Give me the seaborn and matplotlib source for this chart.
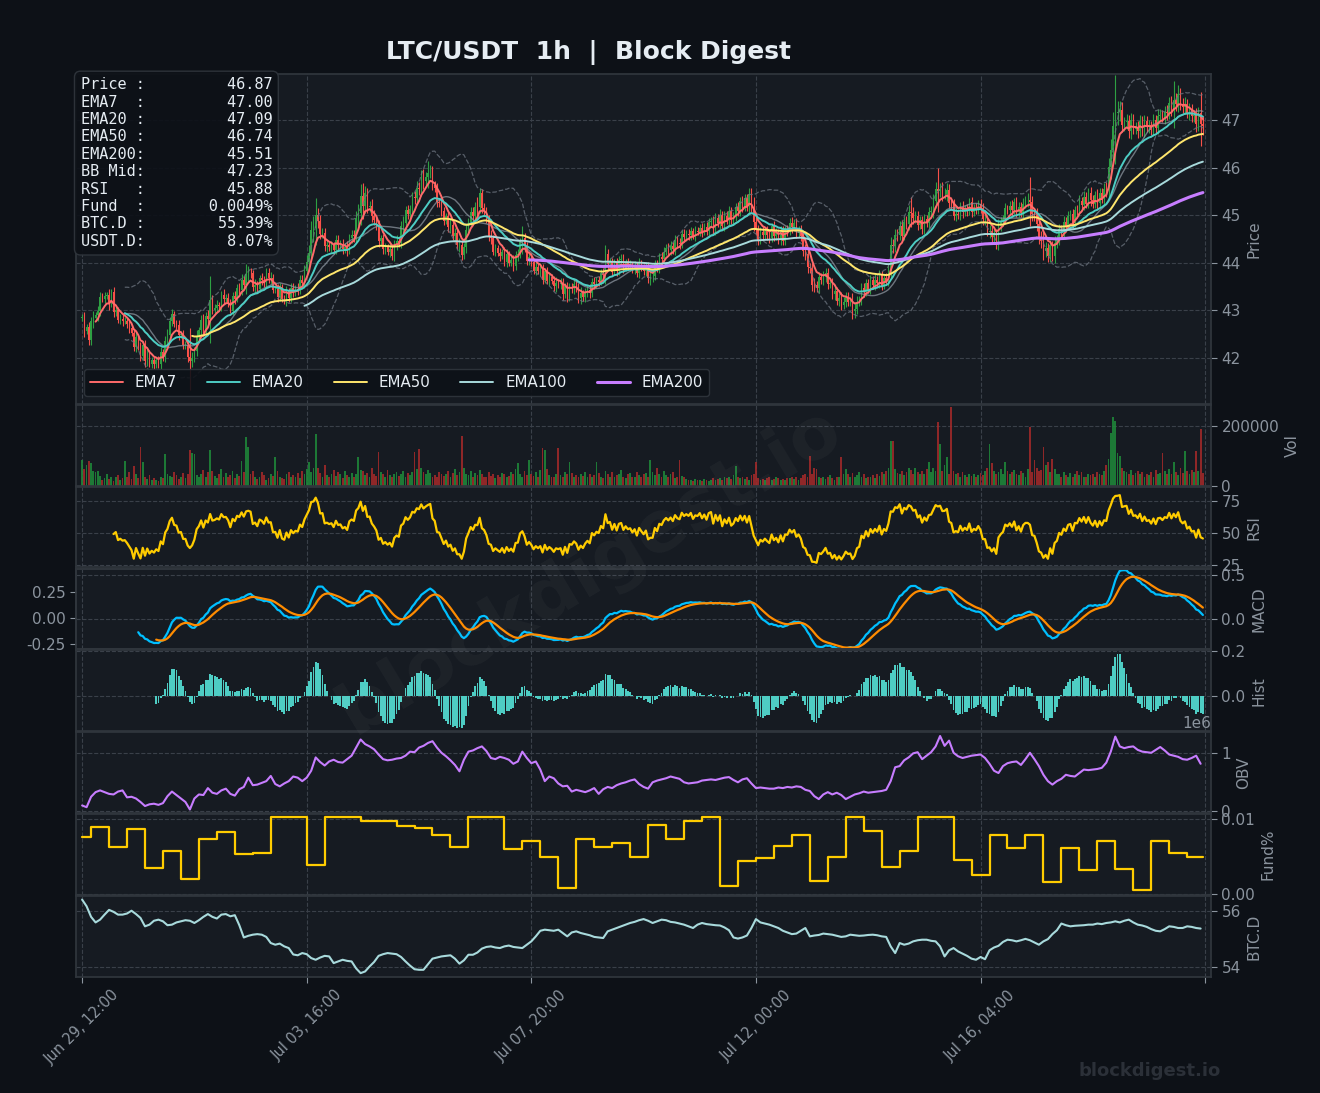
import numpy as np
import pandas as pd
import matplotlib
matplotlib.use("Agg")
import matplotlib.pyplot as plt
import seaborn as sns
from matplotlib.ticker import FormatStrFormatter

START = "2025-06-29 12:00"

# hourly closes
close = [
    42.84, 42.55, 42.64, 42.36, 42.76, 42.83, 42.89, 42.97, 43.28, 43.24,
    43.30, 43.32, 43.13, 43.38, 42.95, 43.00, 42.79, 42.82, 42.77, 42.78,
    42.71, 42.62, 42.52, 42.23, 42.43, 42.23, 42.03, 42.26, 41.92, 42.10,
    41.87, 41.94, 41.86, 41.94, 41.87, 42.11, 42.01, 42.35, 42.47, 42.77,
    42.92, 42.71, 42.69, 42.47, 42.49, 42.26, 42.26, 42.02, 41.92, 41.99,
    42.14, 42.46, 42.57, 42.79, 42.58, 42.87, 42.81, 43.21, 43.01, 43.04,
    43.11, 43.08, 43.32, 43.24, 43.25, 43.17, 42.99, 43.30, 43.24, 43.46,
    43.43, 43.63, 43.53, 43.76, 43.79, 43.77, 43.48, 43.53, 43.44, 43.67,
    43.64, 43.57, 43.79, 43.67, 43.68, 43.43, 43.44, 43.28, 43.49, 43.24,
    43.20, 43.40, 43.25, 43.47, 43.38, 43.45, 43.43, 43.64, 43.58, 43.83,
    44.01, 44.21, 44.69, 44.72, 45.00, 44.88, 44.61, 44.63, 44.34, 44.37,
    44.33, 44.36, 44.26, 44.48, 44.37, 44.39, 44.29, 44.33, 44.26, 44.52,
    44.58, 44.55, 44.94, 45.05, 45.40, 45.19, 45.46, 45.17, 45.19, 44.99,
    44.90, 44.78, 44.45, 44.51, 44.28, 44.33, 44.23, 44.28, 44.14, 44.38,
    44.45, 44.41, 44.77, 44.84, 45.10, 45.03, 45.13, 45.38, 45.36, 45.57,
    45.55, 45.80, 45.71, 45.81, 45.89, 45.94, 45.63, 45.57, 45.27, 45.25,
    45.08, 44.88, 44.97, 44.75, 44.80, 44.56, 44.62, 44.37, 44.37, 44.16,
    44.32, 44.68, 44.85, 45.07, 44.98, 45.17, 45.16, 45.46, 45.14, 45.08,
    44.91, 44.56, 44.52, 44.22, 44.30, 44.21, 44.13, 44.23, 44.02, 44.17,
    44.00, 44.06, 43.93, 44.16, 44.17, 44.44, 44.51, 44.35, 44.04, 44.12,
    44.01, 43.83, 43.91, 43.83, 43.88, 43.63, 43.82, 43.62, 43.69, 43.62,
    43.50, 43.58, 43.55, 43.57, 43.33, 43.50, 43.27, 43.48, 43.46, 43.54,
    43.47, 43.26, 43.35, 43.27, 43.37, 43.43, 43.36, 43.60, 43.54, 43.63,
    43.60, 43.78, 43.73, 44.18, 43.97, 44.01, 43.81, 44.00, 43.82, 44.05,
    44.08, 43.89, 44.01, 43.93, 43.96, 43.85, 43.94, 43.77, 43.99, 43.90,
    43.82, 43.92, 43.67, 43.71, 43.71, 43.97, 43.89, 44.11, 44.08, 44.23,
    44.31, 44.26, 44.35, 44.28, 44.47, 44.41, 44.39, 44.60, 44.54, 44.60,
    44.57, 44.66, 44.56, 44.66, 44.65, 44.73, 44.65, 44.75, 44.67, 44.85,
    44.88, 44.69, 44.94, 44.83, 45.00, 44.77, 44.99, 44.90, 45.09, 44.90,
    44.97, 45.16, 45.09, 45.29, 45.18, 45.35, 45.19, 45.44, 45.18, 44.86,
    44.69, 44.48, 44.65, 44.58, 44.67, 44.58, 44.51, 44.76, 44.56, 44.63,
    44.47, 44.68, 44.46, 44.68, 44.67, 44.84, 44.75, 44.83, 44.62, 44.69,
    44.56, 44.25, 44.19, 43.90, 43.88, 43.53, 43.52, 43.47, 43.69, 43.64,
    43.70, 43.78, 43.55, 43.57, 43.33, 43.40, 43.19, 43.26, 43.11, 43.18,
    43.27, 43.18, 43.19, 42.97, 43.03, 43.18, 43.21, 43.46, 43.39, 43.57,
    43.43, 43.63, 43.53, 43.64, 43.57, 43.74, 43.51, 43.67, 43.62, 43.85,
    44.36, 44.35, 44.59, 44.57, 44.78, 44.56, 44.86, 44.82, 45.07, 45.04,
    44.94, 44.98, 44.80, 44.89, 44.71, 44.91, 44.83, 45.06, 45.08, 45.30,
    45.54, 45.51, 45.55, 45.44, 45.45, 45.53, 45.26, 45.23, 44.99, 45.03,
    45.00, 45.18, 45.06, 45.14, 45.09, 45.27, 45.07, 45.15, 45.12, 45.23,
    45.14, 44.91, 44.91, 44.65, 44.66, 44.53, 44.59, 44.40, 44.77, 44.86,
    44.92, 45.14, 45.10, 45.19, 45.11, 45.27, 45.06, 45.18, 45.04, 45.24,
    45.31, 45.31, 45.27, 45.02, 45.00, 44.81, 44.51, 44.46, 44.24, 44.30,
    44.13, 44.36, 44.13, 44.41, 44.47, 44.71, 44.65, 44.85, 44.78, 44.99,
    45.02, 44.83, 45.11, 45.10, 45.30, 45.21, 45.39, 45.24, 45.47, 45.32,
    45.24, 45.42, 45.25, 45.47, 45.35, 45.55, 45.53, 46.01, 46.36, 46.88,
    47.14, 47.16, 47.22, 46.90, 46.95, 46.98, 46.76, 47.00, 46.82, 46.85,
    46.77, 46.98, 46.77, 46.98, 46.85, 46.89, 46.79, 47.00, 46.84, 47.09,
    47.11, 47.05, 47.17, 47.15, 47.36, 47.23, 47.42, 47.34, 47.55, 47.34,
    47.27, 47.34, 47.15, 47.21, 47.08, 47.10, 46.91, 47.14, 46.91, 46.87,
]

# wick length beyond the body, in cents
wick_c = [
    8, 12, 6, 10, 9, 14, 7, 11, 10, 8, 9, 6, 12, 7, 10, 8, 6, 9, 11, 7, 8, 10, 6, 9, 12,
    7, 10, 8, 11, 9, 6, 8, 10, 7, 9, 12, 8, 10, 14, 9, 11, 7, 8, 10, 6, 9, 8, 11, 60, 12,
    9, 11, 8, 10, 12, 9, 14, 50, 10, 8, 11, 7, 9, 12, 8, 10, 6, 9, 11, 8, 10, 12, 9, 20, 14,
    10, 8, 12, 9, 7, 11, 8, 10, 9, 13, 8, 7, 10, 9, 6, 8, 11, 7, 9, 10, 8, 12, 9, 10, 11,
    14, 16, 18, 25, 35, 15, 12, 10, 9, 11, 8, 10, 7, 9, 11, 8, 10, 9, 12, 8, 10, 11, 14, 18, 25,
    28, 15, 12, 10, 14, 11, 9, 12, 8, 10, 9, 7, 11, 8, 10, 12, 9, 11, 14, 10, 12, 9, 11, 13, 15,
    12, 14, 16, 10, 25, 12, 10, 9, 11, 8, 10, 9, 7, 10, 12, 8, 11, 9, 14, 10, 9, 12, 8, 10, 11,
    10, 22, 12, 9, 11, 8, 10, 12, 7, 9, 8, 10, 6, 9, 11, 7, 8, 10, 9, 12, 8, 25, 12, 9, 10,
    9, 7, 10, 8, 11, 9, 6, 8, 10, 7, 9, 12, 8, 10, 11, 7, 9, 8, 10, 12, 9, 11, 14, 8, 10,
    9, 11, 8, 10, 7, 9, 8, 11, 18, 10, 8, 9, 7, 10, 8, 9, 11, 7, 8, 10, 6, 9, 8, 10, 7,
    8, 10, 9, 14, 11, 8, 9, 10, 12, 9, 8, 11, 10, 9, 12, 8, 10, 9, 11, 8, 10, 9, 7, 10, 8,
    9, 11, 8, 10, 9, 8, 11, 10, 9, 12, 8, 10, 9, 11, 8, 10, 9, 12, 10, 11, 9, 10, 14, 12, 20,
    12, 10, 9, 11, 8, 10, 9, 8, 11, 9, 7, 10, 8, 9, 11, 10, 12, 9, 10, 8, 11, 12, 14, 12, 10,
    12, 14, 10, 11, 9, 12, 10, 11, 9, 10, 12, 8, 10, 11, 9, 12, 10, 9, 16, 14, 11, 9, 10, 12, 9,
    8, 10, 9, 11, 8, 10, 9, 7, 10, 12, 18, 14, 12, 11, 10, 12, 9, 11, 14, 30, 12, 10, 11, 9, 10,
    11, 9, 10, 12, 14, 16, 45, 12, 14, 11, 15, 12, 13, 10, 11, 9, 10, 12, 8, 10, 9, 11, 8, 10, 9,
    10, 12, 11, 9, 13, 10, 12, 11, 14, 10, 9, 11, 8, 10, 12, 9, 11, 10, 9, 12, 10, 15, 50, 14, 12,
    14, 12, 15, 18, 13, 11, 12, 10, 14, 11, 10, 9, 12, 11, 10, 9, 11, 8, 10, 12, 9, 11, 10, 9, 12,
    10, 9, 12, 11, 10, 13, 15, 20, 25, 30, 80, 25, 18, 15, 12, 14, 13, 15, 12, 11, 14, 12, 10, 13, 11,
    12, 10, 13, 11, 14, 12, 10, 13, 15, 12, 14, 40, 15, 18, 13, 12, 14, 11, 15, 13, 12, 16, 14, 45, 18,
]

# hourly volume, thousands
volume_k = [
    86, 55, 70, 83, 77, 50, 44, 50, 32, 18, 25, 40, 22, 30, 15, 28, 35, 20, 26, 83, 30, 45, 22, 67, 38,
    25, 128, 78, 30, 22, 35, 18, 26, 20, 15, 30, 24, 105, 40, 32, 28, 45, 36, 22, 30, 42, 25, 38, 119, 108,
    105, 35, 28, 40, 52, 30, 45, 119, 48, 32, 25, 38, 55, 30, 42, 28, 35, 48, 26, 40, 32, 83, 45, 161, 130,
    38, 50, 28, 22, 30, 45, 35, 20, 26, 40, 32, 97, 48, 30, 25, 22, 38, 45, 28, 35, 30, 42, 26, 50, 40,
    55, 78, 45, 60, 172, 58, 42, 30, 68, 35, 28, 40, 52, 32, 45, 38, 25, 48, 35, 30, 42, 28, 40, 94, 52,
    48, 35, 42, 30, 58, 40, 32, 111, 45, 38, 30, 52, 35, 28, 40, 45, 32, 38, 50, 28, 42, 35, 45, 111, 55,
    122, 60, 45, 38, 52, 42, 30, 35, 28, 45, 40, 32, 38, 48, 30, 42, 55, 35, 45, 167, 58, 40, 35, 48, 30,
    42, 35, 52, 38, 30, 28, 45, 32, 40, 26, 35, 30, 42, 38, 28, 32, 45, 40, 55, 75, 38, 30, 48, 35, 85,
    40, 32, 45, 28, 52, 126, 119, 55, 35, 30, 28, 40, 126, 35, 30, 45, 38, 78, 42, 30, 35, 28, 40, 32, 45,
    30, 38, 28, 35, 80, 42, 30, 25, 48, 38, 30, 45, 28, 35, 40, 52, 30, 25, 38, 42, 30, 28, 45, 35, 30,
    38, 42, 30, 85, 45, 35, 60, 40, 28, 50, 35, 30, 38, 45, 25, 30, 85, 32, 28, 22, 18, 20, 15, 22, 18,
    20, 16, 22, 18, 15, 20, 24, 18, 22, 26, 20, 30, 25, 28, 22, 35, 67, 30, 25, 28, 22, 30, 20, 35, 40,
    80, 25, 20, 22, 18, 25, 28, 20, 22, 30, 25, 18, 22, 20, 26, 24, 30, 22, 28, 20, 25, 35, 40, 28, 100,
    40, 60, 55, 30, 25, 28, 22, 30, 35, 26, 20, 30, 28, 95, 40, 55, 38, 30, 42, 28, 35, 45, 30, 38, 25,
    30, 28, 35, 25, 40, 32, 45, 38, 50, 60, 150, 150, 55, 42, 38, 50, 35, 45, 60, 52, 40, 60, 45, 38, 50,
    40, 55, 78, 45, 60, 50, 211, 139, 48, 70, 95, 40, 261, 50, 38, 42, 30, 45, 35, 28, 40, 32, 38, 30, 35,
    42, 35, 50, 60, 139, 75, 48, 38, 45, 55, 40, 78, 50, 38, 45, 52, 40, 35, 48, 42, 30, 55, 194, 45, 85,
    60, 48, 52, 130, 70, 78, 45, 90, 55, 40, 38, 30, 45, 35, 28, 42, 30, 38, 50, 35, 45, 30, 28, 40, 35,
    38, 30, 45, 40, 35, 50, 70, 90, 174, 228, 217, 110, 100, 60, 48, 45, 40, 52, 35, 42, 48, 38, 45, 30, 40,
    35, 45, 30, 52, 38, 42, 110, 48, 40, 55, 38, 78, 45, 35, 60, 42, 116, 48, 40, 52, 45, 114, 50, 189, 42,
]

# funding rate (%), one value per 8h window (first window is 4h)
fund_8h = [
    0.0076, 0.0089, 0.0063, 0.0086, 0.0035, 0.0057, 0.0020, 0.0073, 0.0082, 0.0054,
    0.0055, 0.0102, 0.0102, 0.0039, 0.0102, 0.0102, 0.0097, 0.0097, 0.0091, 0.0088,
    0.0079, 0.0063, 0.0102, 0.0102, 0.0060, 0.0071, 0.0050, 0.0009, 0.0073, 0.0063,
    0.0068, 0.0050, 0.0092, 0.0073, 0.0097, 0.0102, 0.0011, 0.0044, 0.0048, 0.0064,
    0.0078, 0.0018, 0.0050, 0.0102, 0.0084, 0.0036, 0.0058, 0.0102, 0.0102, 0.0046,
    0.0026, 0.0078, 0.0062, 0.0078, 0.0017, 0.0062, 0.0032, 0.0071, 0.0034, 0.0006,
    0.0071, 0.0055, 0.0049,
]

# OBV in millions, sampled every 2h
obv_2h = [
    0.10, 0.07, 0.25, 0.33, 0.36, 0.33, 0.30, 0.29, 0.34, 0.36,
    0.24, 0.25, 0.22, 0.16, 0.09, 0.12, 0.13, 0.11, 0.14, 0.26,
    0.34, 0.28, 0.22, 0.16, 0.03, 0.22, 0.29, 0.28, 0.40, 0.32,
    0.30, 0.36, 0.39, 0.30, 0.27, 0.38, 0.42, 0.58, 0.45, 0.46,
    0.49, 0.52, 0.61, 0.47, 0.43, 0.48, 0.52, 0.60, 0.58, 0.52,
    0.58, 0.70, 0.93, 0.85, 0.79, 0.86, 0.89, 0.85, 0.84, 0.90,
    0.96, 1.10, 1.24, 1.16, 1.12, 1.07, 0.98, 0.90, 0.88, 0.89,
    0.91, 0.92, 0.96, 1.03, 1.02, 1.10, 1.13, 1.18, 1.21, 1.10,
    1.01, 0.95, 0.88, 0.80, 0.69, 0.89, 1.03, 1.05, 1.09, 1.12,
    1.04, 0.92, 0.90, 0.94, 0.92, 0.89, 0.82, 0.86, 1.03, 0.92,
    0.83, 0.86, 0.72, 0.52, 0.60, 0.57, 0.48, 0.43, 0.44, 0.34,
    0.37, 0.35, 0.33, 0.36, 0.40, 0.30, 0.38, 0.42, 0.40, 0.45,
    0.48, 0.50, 0.53, 0.55, 0.47, 0.42, 0.39, 0.50, 0.53, 0.55,
    0.57, 0.60, 0.58, 0.56, 0.50, 0.48, 0.49, 0.50, 0.53, 0.54,
    0.55, 0.54, 0.56, 0.58, 0.59, 0.54, 0.50, 0.55, 0.57, 0.48,
    0.40, 0.41, 0.40, 0.39, 0.39, 0.41, 0.40, 0.42, 0.41, 0.43,
    0.42, 0.37, 0.35, 0.26, 0.21, 0.29, 0.33, 0.29, 0.32, 0.28,
    0.21, 0.25, 0.29, 0.31, 0.34, 0.32, 0.33, 0.34, 0.35, 0.37,
    0.52, 0.76, 0.78, 0.88, 0.93, 1.00, 1.02, 0.90, 0.96, 1.02,
    1.12, 1.30, 1.13, 1.22, 1.01, 0.95, 0.92, 0.94, 0.96, 0.97,
    0.98, 0.92, 0.82, 0.70, 0.66, 0.78, 0.83, 0.85, 0.86, 0.80,
    0.90, 1.01, 0.90, 0.78, 0.63, 0.52, 0.46, 0.52, 0.56, 0.63,
    0.61, 0.60, 0.66, 0.72, 0.71, 0.72, 0.73, 0.75, 0.84, 1.03,
    1.29, 1.12, 1.09, 1.11, 1.12, 1.06, 1.03, 1.02, 1.01, 1.06,
    1.11, 1.05, 0.98, 0.96, 0.94, 0.90, 0.89, 0.92, 0.96, 0.82,
]

# BTC dominance (%), sampled every 2h
btcd_2h = [
    56.42, 56.18, 55.80, 55.60, 55.70, 55.88, 56.05, 55.98, 55.88, 55.88,
    55.92, 56.02, 55.90, 55.76, 55.46, 55.52, 55.66, 55.70, 55.64, 55.50,
    55.52, 55.60, 55.64, 55.68, 55.66, 55.58, 55.68, 55.80, 55.90, 55.80,
    55.74, 55.88, 55.90, 55.82, 55.86, 55.50, 55.06, 55.12, 55.16, 55.18,
    55.16, 55.08, 54.86, 54.80, 54.84, 54.74, 54.68, 54.45, 54.42, 54.50,
    54.46, 54.32, 54.26, 54.34, 54.40, 54.38, 54.14, 54.20, 54.26, 54.22,
    54.20, 53.95, 53.78, 53.84, 54.02, 54.18, 54.40, 54.46, 54.50, 54.48,
    54.46, 54.36, 54.20, 54.05, 53.92, 53.90, 53.90, 54.10, 54.30, 54.34,
    54.38, 54.40, 54.42, 54.30, 54.12, 54.24, 54.44, 54.44, 54.52, 54.66,
    54.72, 54.74, 54.70, 54.68, 54.74, 54.77, 54.72, 54.70, 54.68, 54.80,
    54.92, 55.10, 55.30, 55.34, 55.32, 55.30, 55.34, 55.22, 55.10, 55.24,
    55.28, 55.22, 55.18, 55.14, 55.08, 55.06, 55.04, 55.28, 55.34, 55.40,
    55.46, 55.52, 55.58, 55.62, 55.68, 55.72, 55.66, 55.58, 55.64, 55.70,
    55.68, 55.62, 55.60, 55.56, 55.52, 55.46, 55.40, 55.52, 55.58, 55.54,
    55.52, 55.50, 55.49, 55.42, 55.32, 55.06, 55.02, 55.06, 55.13, 55.40,
    55.72, 55.60, 55.56, 55.52, 55.46, 55.40, 55.30, 55.24, 55.18, 55.20,
    55.30, 55.40, 55.10, 55.13, 55.15, 55.20, 55.18, 55.16, 55.12, 55.08,
    55.10, 55.16, 55.14, 55.12, 55.13, 55.15, 55.16, 55.14, 55.10, 55.08,
    54.74, 54.50, 54.86, 54.80, 54.84, 54.92, 54.96, 54.98, 54.98, 54.94,
    54.92, 54.74, 54.38, 54.60, 54.68, 54.56, 54.48, 54.40, 54.30, 54.26,
    54.36, 54.28, 54.60, 54.70, 54.76, 54.90, 54.98, 54.96, 54.92, 54.96,
    55.01, 54.96, 54.88, 54.80, 54.92, 55.00, 55.18, 55.32, 55.56, 55.50,
    55.46, 55.48, 55.49, 55.50, 55.52, 55.52, 55.56, 55.54, 55.58, 55.60,
    55.64, 55.60, 55.66, 55.70, 55.60, 55.52, 55.49, 55.44, 55.36, 55.30,
    55.28, 55.36, 55.46, 55.44, 55.40, 55.40, 55.46, 55.44, 55.40, 55.38,
]

ema_spans = [7, 20, 50, 100, 200]
ema_colors = ["#ff6b6b", "#4ecdc4", "#ffe66d", "#a8dadc", "#c77dff"]
info_labels = ["Price", "EMA7", "EMA20", "EMA50", "EMA200", "BB Mid", "RSI", "Fund", "BTC.D", "USDT.D"]
info_values = ["46.87", "47.00", "47.09", "46.74", "45.51", "47.23", "45.88", "0.0049%", "55.39%", "8.07%"]

BG = "#0d1117"
PANEL = "#161b22"
GRID = "#3a4049"
EDGE = "#30363d"
MUTED = "#8b949e"
TEXT = "#e6edf3"
UP = "#2ea043"
DOWN = "#f85149"


def build_frame():
    n = len(close)
    checks = [("wick_c", wick_c, n), ("volume_k", volume_k, n), ("fund_8h", fund_8h, 63),
              ("obv_2h", obv_2h, 250), ("btcd_2h", btcd_2h, 250)]
    for name, arr, want in checks:
        if len(arr) != want:
            raise ValueError(f"{name} has {len(arr)} values, expected {want}")
    df = pd.DataFrame({"close": close})
    df["open"] = df["close"].shift(1).fillna(df["close"].iloc[0])
    w = np.array(wick_c) / 100
    df["high"] = df[["open", "close"]].max(axis=1) + w
    df["low"] = df[["open", "close"]].min(axis=1) - w
    df["volume"] = np.array(volume_k) * 1000
    df["time"] = pd.date_range(START, periods=n, freq="h")
    df["fund"] = np.concatenate([[fund_8h[0]] * 4, np.repeat(fund_8h[1:], 8)])
    return df


def add_indicators(df):
    c = df["close"]
    for s in ema_spans:
        df[f"ema{s}"] = c.ewm(span=s, adjust=False, min_periods=s).mean()
    mid = c.rolling(20).mean()
    sd = c.rolling(20).std()
    df["bb_mid"], df["bb_up"], df["bb_lo"] = mid, mid + 2 * sd, mid - 2 * sd
    # Wilder-style RSI
    delta = c.diff()
    gain = delta.clip(lower=0).ewm(alpha=1 / 14, min_periods=14).mean()
    loss = (-delta.clip(upper=0)).ewm(alpha=1 / 14, min_periods=14).mean()
    df["rsi"] = 100 - 100 / (1 + gain / loss)
    fast = c.ewm(span=12, adjust=False, min_periods=12).mean()
    slow = c.ewm(span=26, adjust=False, min_periods=26).mean()
    df["macd"] = fast - slow
    df["signal"] = df["macd"].ewm(span=9, adjust=False, min_periods=9).mean()
    df["hist"] = df["macd"] - df["signal"]
    return df


def style_axis(ax, label, ylim, ticks, fmt=None):
    ax.set_facecolor(PANEL)
    ax.yaxis.tick_right()
    ax.yaxis.set_label_position("right")
    ax.set_ylabel(label, color=MUTED, fontsize=11)
    ax.set_ylim(*ylim)
    ax.set_yticks(ticks)
    if fmt:
        ax.yaxis.set_major_formatter(FormatStrFormatter(fmt))
    ax.tick_params(axis="y", colors=MUTED, labelsize=11, right=True, left=False,
                   labelright=True, labelleft=False, length=4, width=0.8)
    ax.grid(True, color=GRID, linestyle="--", linewidth=0.8)
    for sp in ax.spines.values():
        sp.set_color(EDGE)


def plot_chart(df):
    sns.set_theme(style="dark")
    plt.rcParams["font.family"] = ["DejaVu Sans"]
    plt.rcParams["axes.unicode_minus"] = True

    fig = plt.figure(figsize=(13.2, 10.93), dpi=100, facecolor=BG)
    gs = fig.add_gridspec(8, 1, height_ratios=[4.08, 1, 1, 1, 1, 1, 1, 1],
                          left=0.0576, right=0.9174, top=0.9323, bottom=0.1061, hspace=0.01)
    ax0 = fig.add_subplot(gs[0])
    axes = [ax0] + [fig.add_subplot(gs[i], sharex=ax0) for i in range(1, 8)]
    x = np.arange(len(df))
    up = (df["close"] >= df["open"]).to_numpy()

    # price panel
    colors = np.where(up, UP, DOWN)
    ax0.vlines(x, df["low"], df["high"], colors=colors, linewidth=0.8, zorder=2)
    body = (df["close"] - df["open"]).abs().clip(lower=0.01)
    ax0.bar(x, body, bottom=df[["open", "close"]].min(axis=1), width=0.65,
            color=colors, linewidth=0, zorder=3)
    ax0.plot(x, df["bb_up"], color="#6e7681", linestyle="--", linewidth=0.9, alpha=0.75, zorder=4)
    ax0.plot(x, df["bb_lo"], color="#6e7681", linestyle="--", linewidth=0.9, alpha=0.75, zorder=4)
    sns.lineplot(x=x, y=df["bb_mid"], ax=ax0, color="#8b949e", linewidth=1.0, alpha=0.75,
                 legend=False, zorder=4)
    for s, col in zip(ema_spans, ema_colors):
        sns.lineplot(x=x, y=df[f"ema{s}"], ax=ax0, color=col, linewidth=2.2 if s == 200 else 1.4,
                     label=f"EMA{s}", zorder=5)
    ax0.legend(loc="lower left", ncol=5, fontsize=10.8, facecolor=BG, edgecolor=EDGE,
               labelcolor=TEXT, framealpha=0.9, handlelength=2.2)
    style_axis(ax0, "Price", (41.03, 47.97), [42, 43, 44, 45, 46, 47])

    info = "\n".join(f"{lab:<6}:{val:>14}" for lab, val in zip(info_labels, info_values))
    ax0.text(0.004, 0.99, info, transform=ax0.transAxes, va="top", ha="left",
             family="DejaVu Sans Mono", fontsize=11, color=TEXT, linespacing=1.2, zorder=10,
             bbox=dict(boxstyle="round,pad=0.4", facecolor=BG, edgecolor=EDGE, alpha=0.92))

    # volume
    vcol = np.where(up, "#1f8a3a", "#a52a2a")
    axes[1].bar(x, df["volume"], width=0.8, color=vcol, alpha=0.85, linewidth=0)
    style_axis(axes[1], "Vol", (0, 270000), [0, 200000])

    # RSI
    sns.lineplot(x=x, y=df["rsi"], ax=axes[2], color="#ffcc00", linewidth=1.6, legend=False)
    style_axis(axes[2], "RSI", (23.4, 86.3), [25, 50, 75])

    # MACD, with a second scale on the left
    sns.lineplot(x=x, y=df["macd"], ax=axes[3], color="#00bfff", linewidth=1.6, legend=False)
    sns.lineplot(x=x, y=df["signal"], ax=axes[3], color="#ff8c00", linewidth=1.6, legend=False)
    tw = axes[3].twinx()
    style_axis(axes[3], "MACD", (-0.333, 0.567), [0.0, 0.5], "%.1f")
    tw.set_ylim(-0.30, 0.48)
    tw.yaxis.tick_left()
    tw.set_yticks([-0.25, 0.0, 0.25])
    tw.yaxis.set_major_formatter(FormatStrFormatter("%.2f"))
    tw.tick_params(axis="y", colors=MUTED, labelsize=11, left=True, right=False,
                   labelleft=True, labelright=False, length=4, width=0.8)
    tw.grid(False)
    for sp in tw.spines.values():
        sp.set_color(EDGE)

    # histogram
    hmask = df["hist"].notna().to_numpy()
    axes[4].bar(x[hmask], df["hist"][hmask], width=0.8, color="#4ecdc4", linewidth=0)
    style_axis(axes[4], "Hist", (-0.159, 0.2045), [0.0, 0.2], "%.1f")

    # OBV
    sns.lineplot(x=x[::2], y=np.array(obv_2h) * 1e6, ax=axes[5], color="#c77dff",
                 linewidth=1.5, legend=False)
    style_axis(axes[5], "OBV", (-0.034e6, 1.362e6), [0, 1e6])
    axes[5].yaxis.get_offset_text().set_color(MUTED)
    axes[5].yaxis.get_offset_text().set_fontsize(11)

    # funding
    sns.lineplot(x=x, y=df["fund"], ax=axes[6], color="#ffcc00", linewidth=1.6,
                 drawstyle="steps-post", legend=False)
    style_axis(axes[6], "Fund%", (-0.0001, 0.0106), [0.0, 0.01], "%.2f")

    # BTC dominance
    sns.lineplot(x=x[::2], y=btcd_2h, ax=axes[7], color="#a8dadc", linewidth=1.5, legend=False)
    style_axis(axes[7], "BTC.D", (53.64, 56.54), [54, 56])

    ticks = [0, 100, 200, 300, 400, 500]
    labels = [df["time"][i].strftime("%b %d, %H:%M") if i < len(df) else "" for i in ticks]
    ax0.set_xlim(-2.7, 502.6)
    axes[-1].set_xticks(ticks)
    axes[-1].set_xticklabels(labels, rotation=45, fontsize=10.5, color=MUTED)
    axes[-1].tick_params(axis="x", colors=MUTED, bottom=True, length=4, width=0.8)
    for ax in axes[:-1]:
        ax.tick_params(axis="x", labelbottom=False, length=0)
    for ax in axes:
        ax.set_xlabel("")

    fig.text(0.4455, 0.9524, "LTC/USDT  1h  |  Block Digest", ha="center", va="center",
             fontsize=18, fontweight="bold", color=TEXT)
    fig.text(0.447, 0.478, "blockdigest.io", ha="center", va="center", fontsize=52,
             fontweight="bold", color="white", alpha=0.035, rotation=31, zorder=20)
    fig.text(0.871, 0.020, "blockdigest.io", ha="center", va="center", fontsize=13,
             fontweight="bold", color="#2b3038")

    fig.savefig("out.png", dpi=100, facecolor=BG)


if __name__ == "__main__":
    df = add_indicators(build_frame())
    plot_chart(df)
